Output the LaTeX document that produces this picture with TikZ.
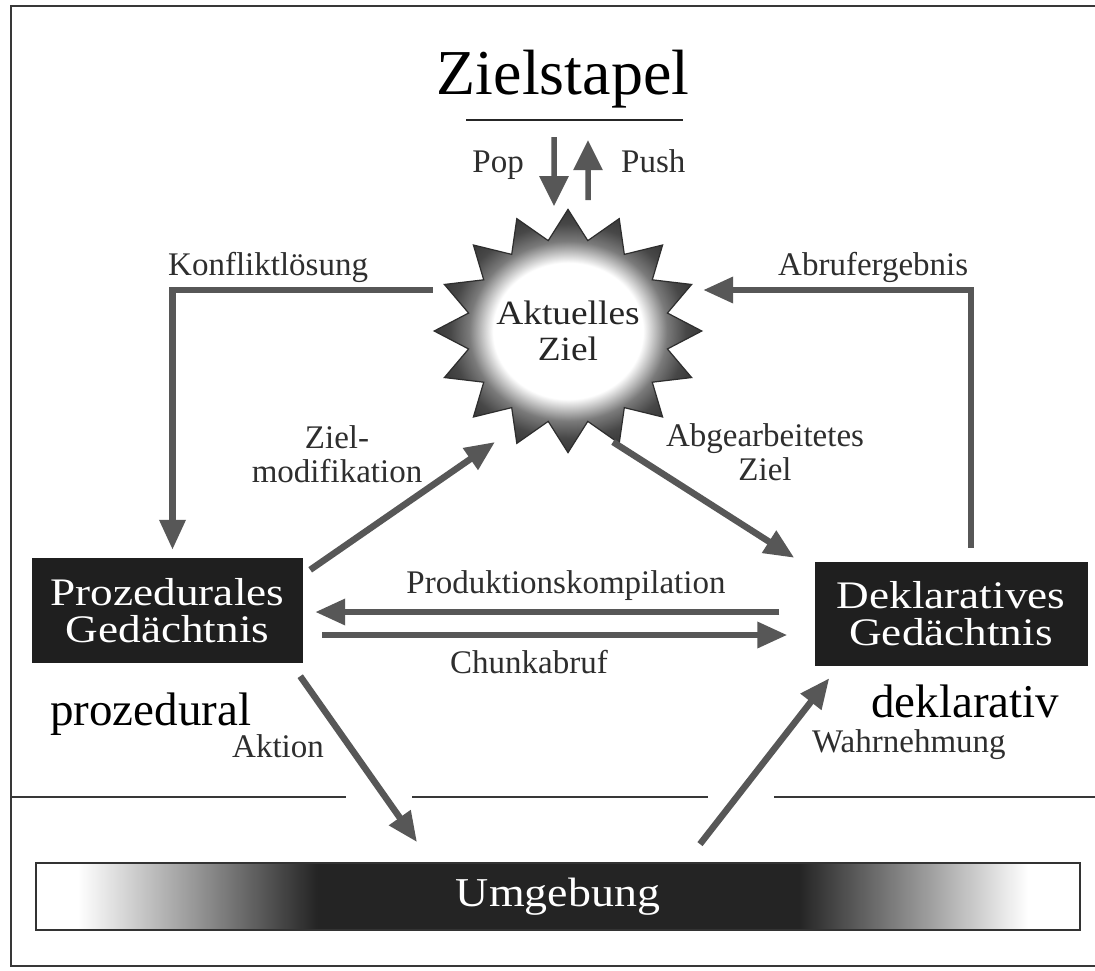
\documentclass[tikz,border=0pt]{standalone}
\usepackage{fontspec}
\setmainfont{Liberation Serif}
\newfontfamily\widefont[FakeStretch=1.12]{Liberation Serif}
\newfontfamily\boxfont[FakeStretch=1.16]{Liberation Serif}
\usetikzlibrary{arrows.meta,shapes.geometric}

% dark band that fades to white at both ends
\pgfdeclarehorizontalshading{envshade}{100bp}{color(0bp)=(white); color(27bp)=(white);
  color(32.5bp)=(black!40); color(38.5bp)=(black!86); color(61.5bp)=(black!86);
  color(67.5bp)=(black!40); color(72.5bp)=(white); color(100bp)=(white)}
% bright centre, dark rays
\pgfdeclareradialshading{starglow}{\pgfpointorigin}{color(0bp)=(white); color(14bp)=(white);
  color(18.5bp)=(black!52); color(22bp)=(black!72); color(25bp)=(black!78); color(50bp)=(black!78)}

\begin{document}
\begin{tikzpicture}[x=1pt,y=-1pt,
  frameline/.style={draw=black!78, line width=2.4pt},
  flow/.style={draw=black!66, line width=6.5pt, -{Triangle[length=30pt,width=25pt]}},
  stackflow/.style={draw=black!66, line width=5.5pt, -{Triangle[length=30pt,width=28pt]}},
  lab/.style={text=black!82, inner sep=0pt, font=\fontsize{33}{34}\selectfont},
  biglab/.style={text=black, inner sep=0pt, font=\fontsize{47}{50}\selectfont},
  memory/.style={fill=black!88, text=white, minimum width=271pt, minimum height=105pt,
    inner sep=0pt, align=center, font=\boxfont\fontsize{39}{37}\selectfont},
]
\useasboundingbox (0,0) rectangle (1095,970);
\fill[white] (0,0) rectangle (1095,970);

% outer frame and the world boundary
\draw[frameline] (1095,6) -- (11,6) -- (11,966) -- (1095,966);
\draw[frameline] (11,797) -- (346,797);
\draw[frameline] (412,797) -- (708,797);
\draw[frameline] (774,797) -- (1095,797);

% goal stack
\node[inner sep=0pt, anchor=base, font=\fontsize{64}{70}\selectfont] (stack) at (563,94) {Zielstapel};
\draw[line width=2pt, black!85] (466,120) -- (683,120);
\coordinate (stackline) at (575,120);

% current goal
\begin{scope}[shift={(568,331)}, xscale=1.1]
  \node[star, star points=16, star point ratio=1.32, minimum size=242pt, inner sep=0pt,
    shade, shading=starglow, draw=black!82, line width=1.2pt, transform shape,
    align=center, text=black!85, font=\fontsize{34}{36}\selectfont] (ziel) at (0,0) {Aktuelles\\Ziel};
\end{scope}

% memories
\node[memory] (proz) at (167.5,610.5) {Prozedurales\\Gedächtnis};
\node[memory, minimum width=273pt, minimum height=104pt] (dekl) at (951,614) {Deklaratives\\Gedächtnis};

% environment
\node[draw=black!80, line width=1.8pt, shade, shading=envshade, minimum width=1044pt,
  minimum height=67pt, inner sep=0pt, text=white,
  font=\widefont\fontsize{41}{44}\selectfont] (umg) at (558,896.5) {Umgebung};

% stack operations
\draw[stackflow] ([shift={(-21,17)}]stackline) -- ([shift={(-14,-2)}]ziel.north);
\draw[stackflow] ([shift={(20,-8)}]ziel.north) -- ([shift={(13,20)}]stackline);
\node[lab, anchor=base east] (poplab) at (524,172) {Pop};
\node[lab, anchor=base west] (pushlab) at (621,172) {Push};

% goal <-> memories
\draw[flow, shorten >=8pt] ([yshift=41pt]ziel.west) -| ([xshift=5pt]proz.north);
\node[lab, anchor=base west] (konf) at (168,275) {Konfliktlösung};
\draw[flow, shorten <=14pt] ([xshift=20pt]dekl.north) |- ([yshift=41pt]ziel.east);
\node[lab, anchor=base west] (abruf) at (778,275) {Abrufergebnis};

\draw[flow] ([shift={(7,12)}]proz.north east) -- ([shift={(-73,111)}]ziel.center);
\node[lab, align=center] (zmod) at (337,454) {Ziel-\\modifikation};
\draw[flow] ([shift={(45,111)}]ziel.center) -- ([shift={(-20,-4)}]dekl.north west);
\node[lab, align=center] (abgz) at (765,452) {Abgearbeitetes\\Ziel};

% between the memories
\coordinate (rowA) at (0,612);
\coordinate (rowB) at (0,635);
\draw[flow, shorten <=35pt, shorten >=12pt] (dekl.west |- rowA) -- (proz.east |- rowA);
\node[lab, anchor=base] (pkomp) at (566,593) {Produktionskompilation};
\draw[flow, shorten <=19pt, shorten >=27pt] (proz.east |- rowB) -- (dekl.west |- rowB);
\node[lab, anchor=base] (chunk) at (529,673) {Chunkabruf};

% memory type labels
\node[biglab, anchor=base west] (plab) at (50,725) {prozedural};
\node[biglab, anchor=base west] (dlab) at (871,717) {deklarativ};

% interaction with the environment
\draw[flow] ([shift={(-3,13)}]proz.south east) -- ([shift={(-141,-20)}]umg.north);
\node[lab, anchor=base west] (akt) at (232,757) {Aktion};
\draw[flow] ([shift={(142,-18)}]umg.north) -- ([shift={(15,12)}]dekl.south west);
\node[lab, anchor=base west] (wahr) at (812,752) {Wahrnehmung};
\end{tikzpicture}
\end{document}
